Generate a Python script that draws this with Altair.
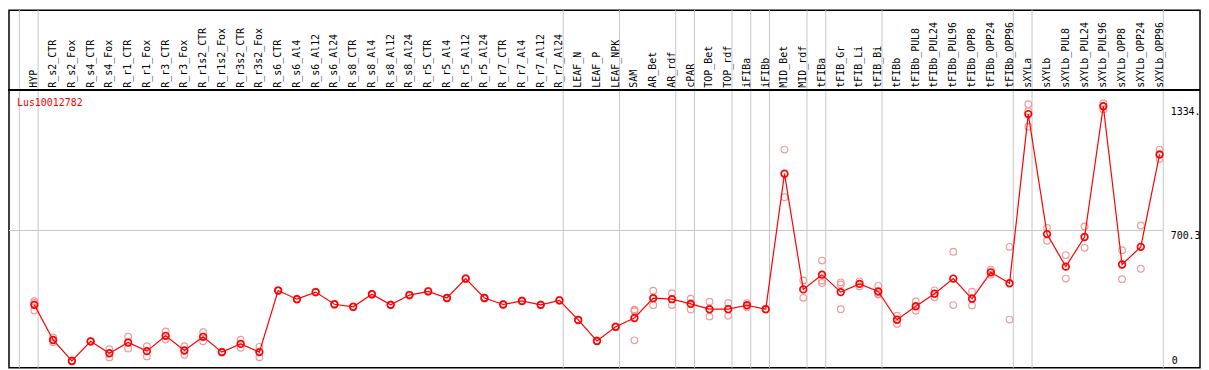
import altair as alt
import pandas as pd

GENE = "Lus10012782"

CATEGORIES = [
    "HYP", "R_s2_CTR", "R_s2_Fox", "R_s4_CTR", "R_s4_Fox", "R_r1_CTR", "R_r1_Fox",
    "R_r3_CTR", "R_r3_Fox", "R_r1s2_CTR", "R_r1s2_Fox", "R_r3s2_CTR", "R_r3s2_Fox",
    "R_s6_CTR", "R_s6_Al4", "R_s6_Al12", "R_s6_Al24", "R_s8_CTR", "R_s8_Al4",
    "R_s8_Al12", "R_s8_Al24", "R_r5_CTR", "R_r5_Al4", "R_r5_Al12", "R_r5_Al24",
    "R_r7_CTR", "R_r7_Al4", "R_r7_Al12", "R_r7_Al24", "LEAF_N", "LEAF_P", "LEAF_NPK",
    "SAM", "AR_Bet", "AR_rdf", "cPAR", "TOP_Bet", "TOP_rdf", "iFIBa", "iFIBb",
    "MID_Bet", "MID_rdf", "tFIBa", "tFIB_Gr", "tFIB_Li", "tFIB_Bi", "tFIBb",
    "tFIBb_PUL8", "tFIBb_PUL24", "tFIBb_PUL96", "tFIBb_OPP8", "tFIBb_OPP24",
    "tFIBb_OPP96", "sXYLa", "sXYLb", "sXYLb_PUL8", "sXYLb_PUL24", "sXYLb_PUL96",
    "sXYLb_OPP8", "sXYLb_OPP24", "sXYLb_OPP96",
]

MEANS = [
    321, 142, 35, 135, 74, 129, 85, 163, 88, 158, 80, 122, 80,
    394, 350, 386, 324, 311, 375, 321, 371, 390, 356, 455, 356,
    323, 341, 321, 344, 244, 137, 209,
    254, 355, 350, 326, 299, 299, 319, 299,
    990, 400, 475, 386, 428, 389, 245,
    314, 378, 455, 352, 487, 431,
    1294, 682, 516, 667, 1334, 527, 617, 1088,
]

REPLICATES = [
    [340, 331, 292], [155, 130], [38, 32], [137, 133], [95, 53], [159, 99], [110, 58],
    [185, 145], [110, 66], [182, 135], [82, 78], [143, 102], [107, 54],
    [396, 392], [352, 348], [388, 384], [326, 322], [313, 309], [377, 373],
    [323, 319], [373, 369], [392, 388], [358, 354], [457, 453], [358, 354],
    [325, 321], [343, 339], [323, 319], [346, 342], [246, 242], [139, 135], [211, 207],
    [297, 292, 288, 140], [393, 319], [380, 320], [352, 330, 297], [337, 262],
    [331, 266], [330, 309], [300, 298],
    [1113, 870], [445, 357], [547, 445, 433], [436, 425, 299], [441, 415],
    [418, 376, 374], [266, 224],
    [338, 291], [395, 360], [592, 320], [388, 318], [500, 475], [617, 246],
    [1344, 1310, 1230], [714, 648], [575, 455], [721, 612], [1350, 1318],
    [600, 452], [726, 505], [1113, 1065],
]

# index of the last category of each group (a separator follows it)
GROUP_ENDS = [-1, 0, 28, 31, 34, 35, 37, 38, 39, 41, 42, 45, 52, 53, 60]

TICK_VALUES = [0, 700.3, 1334]
TICK_LABELS = ["0", "700.3", "1334."]
GRID_VALUE = 700.3

# ---------------- layout ----------------
W, H = 1199, 360
STEP = 18.879          # pixels per category
FIRST = 25.54          # pixel x of first category
X_MIN = -FIRST / STEP
X_MAX = X_MIN + W / STEP
HEADER = 80.5          # header separator (pixels from top)
Y_TOP = 1823.9         # value at the very top of the frame
SEP_OFFSET = 0.2
TICK_X = 1169.5

MONO = "DejaVu Sans Mono"
RED = "#ff0000"
PINK = "#f09a9a"
GRAY = "#c8c8c8"

mean_df = pd.DataFrame({"idx": range(len(CATEGORIES)), "cat": CATEGORIES, "mean": MEANS})
rep_rows = []
for i, (c, reps) in enumerate(zip(CATEGORIES, REPLICATES)):
    for v in reps:
        rep_rows.append({"idx": i, "cat": c, "value": v})
rep_df = pd.DataFrame(rep_rows)
bound_df = pd.DataFrame({"pos": [g + SEP_OFFSET for g in GROUP_ENDS]})
grid_df = pd.DataFrame({"x0": [X_MIN], "x1": [GROUP_ENDS[-1] + SEP_OFFSET], "v": [GRID_VALUE]})
tick_df = pd.DataFrame({"v": TICK_VALUES, "lab": TICK_LABELS})

xs = alt.Scale(domain=[X_MIN, X_MAX], nice=False, zero=False)
ys = alt.Scale(domain=[0, Y_TOP], nice=False, zero=True)

bounds = alt.Chart(bound_df).mark_rule(color=GRAY, strokeWidth=1).encode(
    x=alt.X("pos:Q", scale=xs, axis=None)
)

grid = alt.Chart(grid_df).mark_rule(color=GRAY, strokeWidth=1).encode(
    x=alt.X("x0:Q", scale=xs, axis=None),
    x2="x1:Q",
    y=alt.Y("v:Q", scale=ys, axis=None),
)

reps = alt.Chart(rep_df).mark_point(
    shape="circle", filled=False, color=PINK, size=45, strokeWidth=1.2, opacity=1
).encode(
    x=alt.X("idx:Q", scale=xs, axis=None),
    y=alt.Y("value:Q", scale=ys, axis=None),
)

line = alt.Chart(mean_df).mark_line(color=RED, strokeWidth=1.2).encode(
    x=alt.X("idx:Q", scale=xs, axis=None),
    y=alt.Y("mean:Q", scale=ys, axis=None),
)

means = alt.Chart(mean_df).mark_point(
    shape="circle", filled=False, color=RED, size=45, strokeWidth=1.7, opacity=1
).encode(
    x=alt.X("idx:Q", scale=xs, axis=None),
    y=alt.Y("mean:Q", scale=ys, axis=None),
)

labels = alt.Chart(mean_df).mark_text(
    angle=270, align="left", baseline="middle", font=MONO, fontSize=10, color="black"
).encode(
    x=alt.X("idx:Q", scale=xs, axis=None),
    y=alt.value(HEADER - 2.5),
    text="cat:N",
)

ticks_top = alt.Chart(tick_df).transform_filter("datum.v > 0").mark_text(
    align="left", baseline="top", font=MONO, fontSize=10, color="black", dy=1
).encode(
    x=alt.value(TICK_X), y=alt.Y("v:Q", scale=ys, axis=None), text="lab:N"
)

ticks_bottom = alt.Chart(tick_df).transform_filter("datum.v <= 0").mark_text(
    align="left", baseline="bottom", font=MONO, fontSize=10, color="black", dy=-2
).encode(
    x=alt.value(TICK_X + 1), y=alt.Y("v:Q", scale=ys, axis=None), text="lab:N"
)

sep = alt.Chart(mean_df).mark_rule(color="black", strokeWidth=1).encode(
    y=alt.value(HEADER)
)

title = alt.Chart(pd.DataFrame({"t": [GENE]})).mark_text(
    align="left", baseline="alphabetic", font=MONO, fontSize=10, color=RED
).encode(
    x=alt.value(8), y=alt.value(HEADER + 16), text="t:N"
)

chart = alt.layer(
    bounds, grid, reps, line, means, labels, ticks_top, ticks_bottom, sep, title
).properties(
    width=W, height=H, padding=1, autosize="none", background="white"
).configure_view(stroke="black", strokeWidth=1.5)

chart.save("out.html", embed_options={"renderer": "svg", "actions": False})
